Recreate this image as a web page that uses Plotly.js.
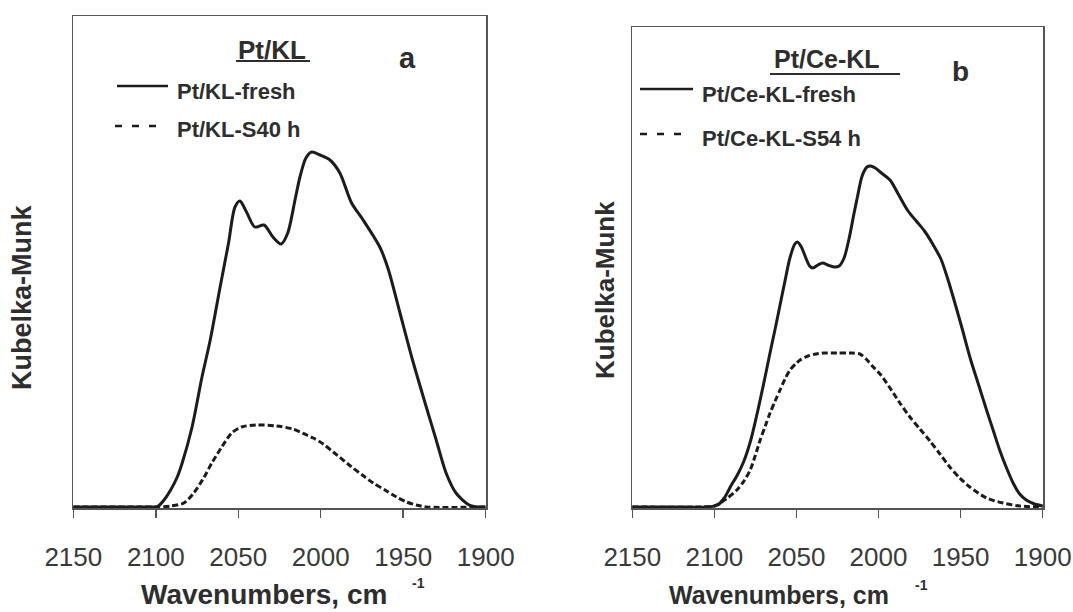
<!DOCTYPE html>
<html>
<head>
<meta charset="utf-8">
<script src="https://cdn.plot.ly/plotly-3.0.1.min.js"></script>
<style>html,body{margin:0;padding:0;background:#fff;}#chart{width:1073px;height:612px;}</style>
</head>
<body>
<div id="chart"></div>
<script>
// ---- data ----
const tickValues = [2150, 2100, 2050, 2000, 1950, 1900];
const tickLabels = ["2150", "2100", "2050", "2000", "1950", "1900"];

// Panel a: Pt/KL
const wnAFresh = [2150, 2130, 2110, 2100, 2099, 2095, 2091, 2087, 2084, 2078, 2072, 2067, 2061, 2056, 2052, 2049, 2045, 2040, 2034.4, 2029, 2024, 2020, 2015.6, 2012.6, 2009, 2005.5, 2000.5, 1994.4, 1988.4, 1981.3, 1974.3, 1964.2, 1959.1, 1952.1, 1944, 1936, 1930, 1924, 1918, 1910, 1904, 1900];
const kmAFresh = [0, 0, 0, 0, 0.003, 0.07, 0.17, 0.30, 0.44, 0.80, 1.30, 1.67, 2.20, 2.63, 3.00, 3.06, 2.95, 2.80, 2.82, 2.70, 2.63, 2.74, 3.07, 3.30, 3.49, 3.55, 3.52, 3.47, 3.34, 3.04, 2.87, 2.60, 2.38, 1.95, 1.45, 1.00, 0.67, 0.34, 0.14, 0.02, 0, 0];
const wnAAged = [2150, 2110, 2100, 2091, 2083, 2077, 2071, 2066, 2060, 2054, 2048, 2039, 2027, 2017, 2008.5, 2004.5, 1998.5, 1992.4, 1982, 1974, 1968.2, 1961, 1954.1, 1948, 1942, 1936, 1900];
const kmAAged = [0, 0, 0, 0.01, 0.04, 0.14, 0.29, 0.44, 0.60, 0.74, 0.80, 0.82, 0.81, 0.78, 0.72, 0.69, 0.63, 0.55, 0.41, 0.31, 0.24, 0.17, 0.10, 0.05, 0.02, 0, 0];

// Panel b: Pt/Ce-KL
const wnBFresh = [2150, 2125, 2105, 2098, 2094, 2090, 2086, 2082, 2078, 2075, 2072, 2069, 2066, 2063, 2060, 2057, 2054, 2051, 2049.5, 2047, 2045, 2042, 2040, 2037, 2034, 2031, 2027, 2024, 2021, 2018, 2015, 2013, 2010, 2007, 2005, 2002, 1999, 1993, 1988, 1982, 1977, 1972, 1967, 1962, 1958, 1954, 1949, 1944, 1939, 1934, 1930, 1926, 1922, 1918, 1914, 1910, 1905, 1900];
const kmBFresh = [0, 0, 0, 0.02, 0.09, 0.21, 0.32, 0.46, 0.66, 0.86, 1.08, 1.31, 1.55, 1.78, 2.02, 2.26, 2.49, 2.63, 2.65, 2.60, 2.52, 2.41, 2.39, 2.42, 2.44, 2.42, 2.40, 2.41, 2.49, 2.68, 2.93, 3.09, 3.31, 3.40, 3.41, 3.39, 3.35, 3.27, 3.13, 2.96, 2.86, 2.76, 2.63, 2.48, 2.29, 2.07, 1.78, 1.48, 1.22, 0.96, 0.76, 0.56, 0.39, 0.24, 0.13, 0.07, 0.03, 0.01];
const wnBAged = [2150, 2110, 2100, 2096.5, 2092, 2086.3, 2082, 2078.2, 2075, 2072.1, 2069, 2066.1, 2063, 2060, 2057, 2053.9, 2050, 2047.8, 2043, 2038, 2033.6, 2025, 2017.4, 2011.3, 2007, 2003.2, 1999.1, 1993, 1987, 1980.9, 1974.8, 1968.7, 1962.6, 1956.6, 1950.5, 1944.4, 1934.2, 1924.1, 1914, 1900];
const kmBAged = [0, 0, 0.01, 0.04, 0.09, 0.17, 0.26, 0.37, 0.52, 0.67, 0.81, 0.94, 1.06, 1.17, 1.28, 1.37, 1.44, 1.47, 1.51, 1.53, 1.54, 1.54, 1.54, 1.53, 1.47, 1.40, 1.33, 1.19, 1.04, 0.90, 0.78, 0.66, 0.53, 0.40, 0.29, 0.20, 0.09, 0.04, 0.01, 0];

const namesA = ["Pt/KL-fresh", "Pt/KL-S40 h"];
const namesB = ["Pt/Ce-KL-fresh", "Pt/Ce-KL-S54 h"];
const panelTitles = ["Pt/KL", "Pt/Ce-KL"];
const panelLetters = ["a", "b"];

// ---- layout helpers ----
const W = 1073, H = 612;
const px = x => x / W;
const py = y => 1 - y / H;
const FONT = "Liberation Sans, Arial, Helvetica, sans-serif";
const INK = "#1c1c1c";
const TXT = "#2e2e2e";
const BOX = "#555";
const DASH = "6px,3px";

const lineStyle = (dash) => ({color: INK, width: 3, dash: dash, shape: "spline", smoothing: 0.8});

const traces = [
  {x: wnAFresh, y: kmAFresh, name: namesA[0], mode: "lines", line: lineStyle("solid"), xaxis: "x", yaxis: "y"},
  {x: wnAAged, y: kmAAged, name: namesA[1], mode: "lines", line: lineStyle(DASH), xaxis: "x", yaxis: "y"},
  {x: wnBFresh, y: kmBFresh, name: namesB[0], mode: "lines", line: lineStyle("solid"), xaxis: "x2", yaxis: "y2"},
  {x: wnBAged, y: kmBAged, name: namesB[1], mode: "lines", line: lineStyle(DASH), xaxis: "x2", yaxis: "y2"}
];

const xaxisBase = {
  range: [2150.2, 1899.8],
  tickmode: "array", tickvals: tickValues, ticktext: tickLabels,
  ticks: "outside", ticklen: 8, tickwidth: 1.5, tickcolor: BOX,
  ticklabelstandoff: 17,
  tickfont: {family: FONT, size: 26, color: "#3a3a3a"},
  showline: true, mirror: true, linecolor: BOX, linewidth: 1.5,
  showgrid: false, zeroline: false, fixedrange: true
};
const yaxisBase = {
  showline: true, mirror: true, linecolor: BOX, linewidth: 1.5,
  ticks: "", showticklabels: false, showgrid: false, zeroline: false, fixedrange: true
};

const layout = {
  width: W, height: H,
  margin: {l: 0, r: 0, t: 0, b: 0},
  paper_bgcolor: "#fff", plot_bgcolor: "#fff",
  showlegend: false,
  xaxis: Object.assign({}, xaxisBase, {domain: [px(73), px(486)], anchor: "y"}),
  yaxis: Object.assign({}, yaxisBase, {domain: [py(508), py(16)], range: [-0.01, 4.91], anchor: "x"}),
  xaxis2: Object.assign({}, xaxisBase, {domain: [px(632), px(1043)], anchor: "y2"}),
  yaxis2: Object.assign({}, yaxisBase, {domain: [py(508), py(27)], range: [-0.01, 4.80], anchor: "x2"}),
  shapes: [
    // legend samples, panel a
    {type: "line", xref: "paper", yref: "paper", x0: px(117), x1: px(168), y0: py(86), y1: py(86), line: {color: INK, width: 2.5}},
    {type: "line", xref: "paper", yref: "paper", x0: px(115), x1: px(162), y0: py(126), y1: py(126), line: {color: INK, width: 2.5, dash: "7px,10px"}},
    {type: "line", xref: "paper", yref: "paper", x0: px(236), x1: px(310), y0: py(61), y1: py(61), line: {color: TXT, width: 2}},
    // legend samples, panel b
    {type: "line", xref: "paper", yref: "paper", x0: px(640), x1: px(693), y0: py(89), y1: py(89), line: {color: INK, width: 2.5}},
    {type: "line", xref: "paper", yref: "paper", x0: px(640), x1: px(688), y0: py(134), y1: py(134), line: {color: INK, width: 2.5, dash: "7px,10px"}},
    {type: "line", xref: "paper", yref: "paper", x0: px(770), x1: px(900), y0: py(74), y1: py(74), line: {color: TXT, width: 2}}
  ],
  annotations: [
    // panel a
    {text: "<b>" + panelTitles[0] + "</b>", xref: "paper", yref: "paper", x: px(272), y: py(50), xanchor: "center", yanchor: "middle", showarrow: false, font: {family: FONT, size: 26, color: TXT}},
    {text: "<b>" + panelLetters[0] + "</b>", xref: "paper", yref: "paper", x: px(407), y: py(58), xanchor: "center", yanchor: "middle", showarrow: false, font: {family: FONT, size: 29, color: TXT}},
    {text: "<b>" + namesA[0] + "</b>", xref: "paper", yref: "paper", x: px(175), y: py(91), xanchor: "left", yanchor: "middle", showarrow: false, font: {family: FONT, size: 22, color: TXT}},
    {text: "<b>" + namesA[1] + "</b>", xref: "paper", yref: "paper", x: px(175), y: py(129), xanchor: "left", yanchor: "middle", showarrow: false, font: {family: FONT, size: 22, color: TXT}},
    {text: "<b>Wavenumbers, cm</b>", xref: "paper", yref: "paper", x: px(264), y: py(594), xanchor: "center", yanchor: "middle", showarrow: false, font: {family: FONT, size: 28, color: TXT}},
    {text: "<b>-1</b>", xref: "paper", yref: "paper", x: px(418), y: py(583), xanchor: "center", yanchor: "middle", showarrow: false, font: {family: FONT, size: 14, color: TXT}},
    {text: "<b>Kubelka-Munk</b>", xref: "paper", yref: "paper", x: px(22), y: py(297), xanchor: "center", yanchor: "middle", textangle: -90, showarrow: false, font: {family: FONT, size: 27, color: TXT}},
    // panel b
    {text: "<b>" + panelTitles[1] + "</b>", xref: "paper", yref: "paper", x: px(827), y: py(59), xanchor: "center", yanchor: "middle", showarrow: false, font: {family: FONT, size: 25, color: TXT}},
    {text: "<b>" + panelLetters[1] + "</b>", xref: "paper", yref: "paper", x: px(960), y: py(71), xanchor: "center", yanchor: "middle", showarrow: false, font: {family: FONT, size: 28, color: TXT}},
    {text: "<b>" + namesB[0] + "</b>", xref: "paper", yref: "paper", x: px(700), y: py(94), xanchor: "left", yanchor: "middle", showarrow: false, font: {family: FONT, size: 22, color: TXT}},
    {text: "<b>" + namesB[1] + "</b>", xref: "paper", yref: "paper", x: px(700), y: py(139), xanchor: "left", yanchor: "middle", showarrow: false, font: {family: FONT, size: 22, color: TXT}},
    {text: "<b>Wavenumbers, cm</b>", xref: "paper", yref: "paper", x: px(779), y: py(595), xanchor: "center", yanchor: "middle", showarrow: false, font: {family: FONT, size: 25, color: TXT}},
    {text: "<b>-1</b>", xref: "paper", yref: "paper", x: px(921), y: py(585), xanchor: "center", yanchor: "middle", showarrow: false, font: {family: FONT, size: 14, color: TXT}},
    {text: "<b>Kubelka-Munk</b>", xref: "paper", yref: "paper", x: px(605), y: py(290), xanchor: "center", yanchor: "middle", textangle: -90, showarrow: false, font: {family: FONT, size: 26, color: TXT}}
  ]
};

Plotly.newPlot("chart", traces, layout, {staticPlot: true, displayModeBar: false});
</script>
</body>
</html>
